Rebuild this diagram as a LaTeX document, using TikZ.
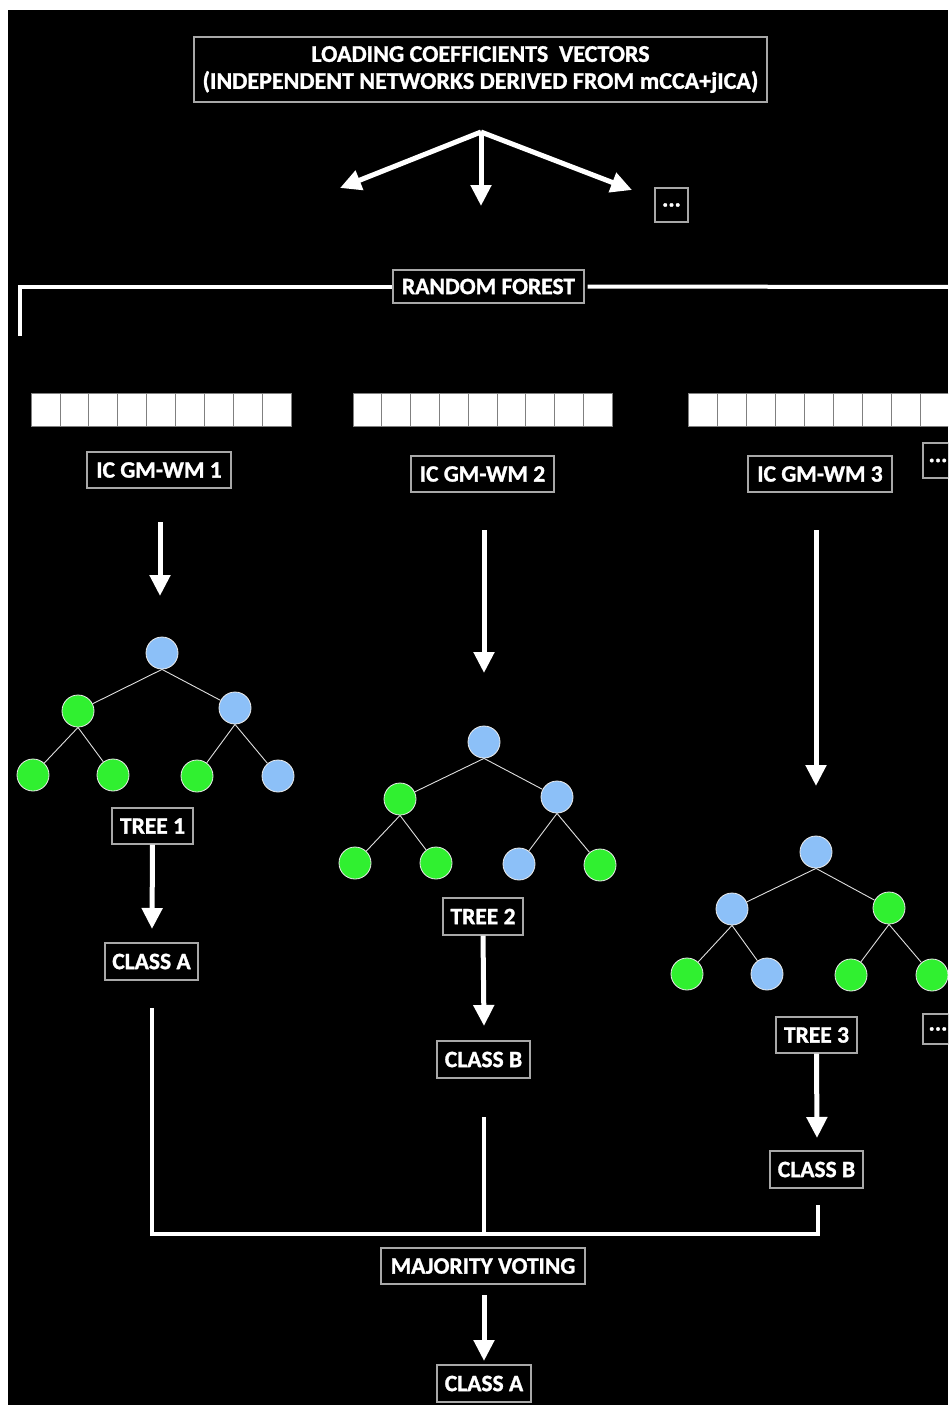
\documentclass[tikz,border=0pt]{standalone}
\usepackage{fontspec}
\setmainfont{Carlito}[BoldFeatures={FakeBold=1.2}]
\usetikzlibrary{arrows.meta}
\definecolor{nodeblue}{HTML}{8CC0F8}
\definecolor{nodegreen}{HTML}{30F030}
\definecolor{boxgray}{HTML}{A8A8A8}
\begin{document}
\begin{tikzpicture}[x=1pt,y=-1pt,
  lbl/.style={draw=boxgray, line width=1.2pt, fill=black, text=white,
    font=\bfseries\fontsize{23.5}{27}\selectfont, inner sep=0pt},
  bigarrow/.style={draw=white, line width=5pt, -{Triangle[width=20pt,length=21pt]}},
  bracket/.style={draw=white, line width=4pt},
  leafb/.style={circle, minimum size=32pt, inner sep=0pt, fill=nodeblue, draw=white!85!gray, line width=0.8pt},
  leafg/.style={circle, minimum size=32pt, inner sep=0pt, fill=nodegreen, draw=white!85!gray, line width=0.8pt},
  edge/.style={draw=white!75!gray, line width=0.9pt},
  cell/.style={fill=white, draw=gray, line width=0.8pt}
]
\clip (0,0) rectangle (948,1405);
\fill[white] (0,0) rectangle (948,1405);
\fill[black] (8,10) rectangle (948,1405);

% top box
\node[lbl, minimum width=573, minimum height=65, align=center,
  font=\bfseries\fontsize{24}{27}\selectfont] (top) at (480.5,69.5)
  {LOADING COEFFICIENTS\ \ VECTORS\\(INDEPENDENT NETWORKS DERIVED FROM mCCA+jICA)};
\coordinate (fork) at (481,132);
\coordinate (fl) at (340,188);
\coordinate (fm) at (481,206);
\coordinate (fr) at (632,190);
\draw[bigarrow] (fork) -- (fl);
\draw[bigarrow] (fork) -- (fm);
\draw[bigarrow] (fork) -- (fr);
\node[lbl, minimum width=33, minimum height=34] (dots0) at (671.5,205) {...};

% random forest
\node[lbl, minimum width=191, minimum height=33] (rf) at (488.5,286.5) {RANDOM FOREST};
\coordinate (rfL) at (20,336);
\coordinate (rfR) at (952,287);
\draw[bracket] (rfL) |- (rf.west);
\draw[bracket] ([xshift=3pt]rf.east) -- (rfR);

% vectors
\foreach \x in {0,...,8} {
  \draw[cell] ({31+\x*28.9},393) rectangle ({31+(\x+1)*28.9},426);
  \draw[cell] ({353+\x*28.8},393) rectangle ({353+(\x+1)*28.8},426);
  \draw[cell] ({688+\x*29},393) rectangle ({688+(\x+1)*29},426);
}

% IC labels
\node[lbl, minimum width=144, minimum height=36] (ic1) at (159,470) {IC GM-WM 1};
\node[lbl, minimum width=143, minimum height=36] (ic2) at (482.5,474) {IC GM-WM 2};
\node[lbl, minimum width=144, minimum height=36] (ic3) at (820,474) {IC GM-WM 3};
\node[lbl, minimum width=30, minimum height=35] (dots1) at (938,460.5) {...};

% arrows to trees
\coordinate (a1s) at (160,522); \coordinate (a1e) at (160,596);
\coordinate (a2s) at (484,530); \coordinate (a2e) at (484,673);
\coordinate (a3s) at (816,530); \coordinate (a3e) at (816,786);
\draw[bigarrow] (a1s) -- (a1e);
\draw[bigarrow] (a2s) -- (a2e);
\draw[bigarrow] (a3s) -- (a3e);

% tree 1
\node[leafb] (t1r) at (162,653) {};
\node[leafg] (t1a) at (78,711) {};
\node[leafb] (t1b) at (235,708) {};
\node[leafg] (t1c) at (33,775) {};
\node[leafg] (t1d) at (113,775) {};
\node[leafg] (t1e) at (197,776) {};
\node[leafb] (t1f) at (278,776) {};
\draw[edge] (t1r.south) -- (t1a); \draw[edge] (t1r.south) -- (t1b);
\draw[edge] (t1a.south) -- (t1c); \draw[edge] (t1a.south) -- (t1d);
\draw[edge] (t1b.south) -- (t1e); \draw[edge] (t1b.south) -- (t1f);

% tree 2
\node[leafb] (t2r) at (484,742) {};
\node[leafg] (t2a) at (400,799) {};
\node[leafb] (t2b) at (557,797) {};
\node[leafg] (t2c) at (355,863) {};
\node[leafg] (t2d) at (436,863) {};
\node[leafb] (t2e) at (519,864) {};
\node[leafg] (t2f) at (600,865) {};
\draw[edge] (t2r.south) -- (t2a); \draw[edge] (t2r.south) -- (t2b);
\draw[edge] (t2a.south) -- (t2c); \draw[edge] (t2a.south) -- (t2d);
\draw[edge] (t2b.south) -- (t2e); \draw[edge] (t2b.south) -- (t2f);

% tree 3
\node[leafb] (t3r) at (816,852) {};
\node[leafb] (t3a) at (732,909) {};
\node[leafg] (t3b) at (889,908) {};
\node[leafg] (t3c) at (687,974) {};
\node[leafb] (t3d) at (767,974) {};
\node[leafg] (t3e) at (851,975) {};
\node[leafg] (t3f) at (932,975) {};
\draw[edge] (t3r.south) -- (t3a); \draw[edge] (t3r.south) -- (t3b);
\draw[edge] (t3a.south) -- (t3c); \draw[edge] (t3a.south) -- (t3d);
\draw[edge] (t3b.south) -- (t3e); \draw[edge] (t3b.south) -- (t3f);

% tree labels and classes
\node[lbl, minimum width=81, minimum height=36] (tr1) at (152.5,826) {TREE 1};
\node[lbl, minimum width=80, minimum height=37] (tr2) at (483,916.5) {TREE 2};
\node[lbl, minimum width=81, minimum height=36] (tr3) at (816.5,1035) {TREE 3};
\node[lbl, minimum width=30, minimum height=30] (dots2) at (938,1029) {...};

\node[lbl, minimum width=93, minimum height=37] (c1) at (151.5,961.5) {CLASS A};
\node[lbl, minimum width=93, minimum height=37] (c2) at (483.5,1059.5) {CLASS B};
\node[lbl, minimum width=93, minimum height=37] (c3) at (816.5,1169.5) {CLASS B};

\coordinate (c1t) at (152,929);
\coordinate (c2t) at (484,1026);
\coordinate (c3t) at (817,1138);
\draw[bigarrow] (tr1.south) -- (c1t);
\draw[bigarrow] (tr2.south) -- (c2t);
\draw[bigarrow] (tr3.south) -- (c3t);

% voting bracket
\coordinate (v1) at (152,1008);
\coordinate (v2) at (484,1117);
\coordinate (v3) at (818,1205);
\coordinate (vm) at (484,1234);
\draw[bracket] (v1) |- (v3 |- vm) -- (v3);
\draw[bracket] (v2) -- (vm);

\node[lbl, minimum width=204, minimum height=36] (mv) at (483,1266) {MAJORITY VOTING};
\node[lbl, minimum width=94, minimum height=37] (final) at (484,1383.5) {CLASS A};
\coordinate (mvs) at (484,1295);
\coordinate (ft) at (484,1361);
\draw[bigarrow] (mvs) -- (ft);
\end{tikzpicture}
\end{document}
